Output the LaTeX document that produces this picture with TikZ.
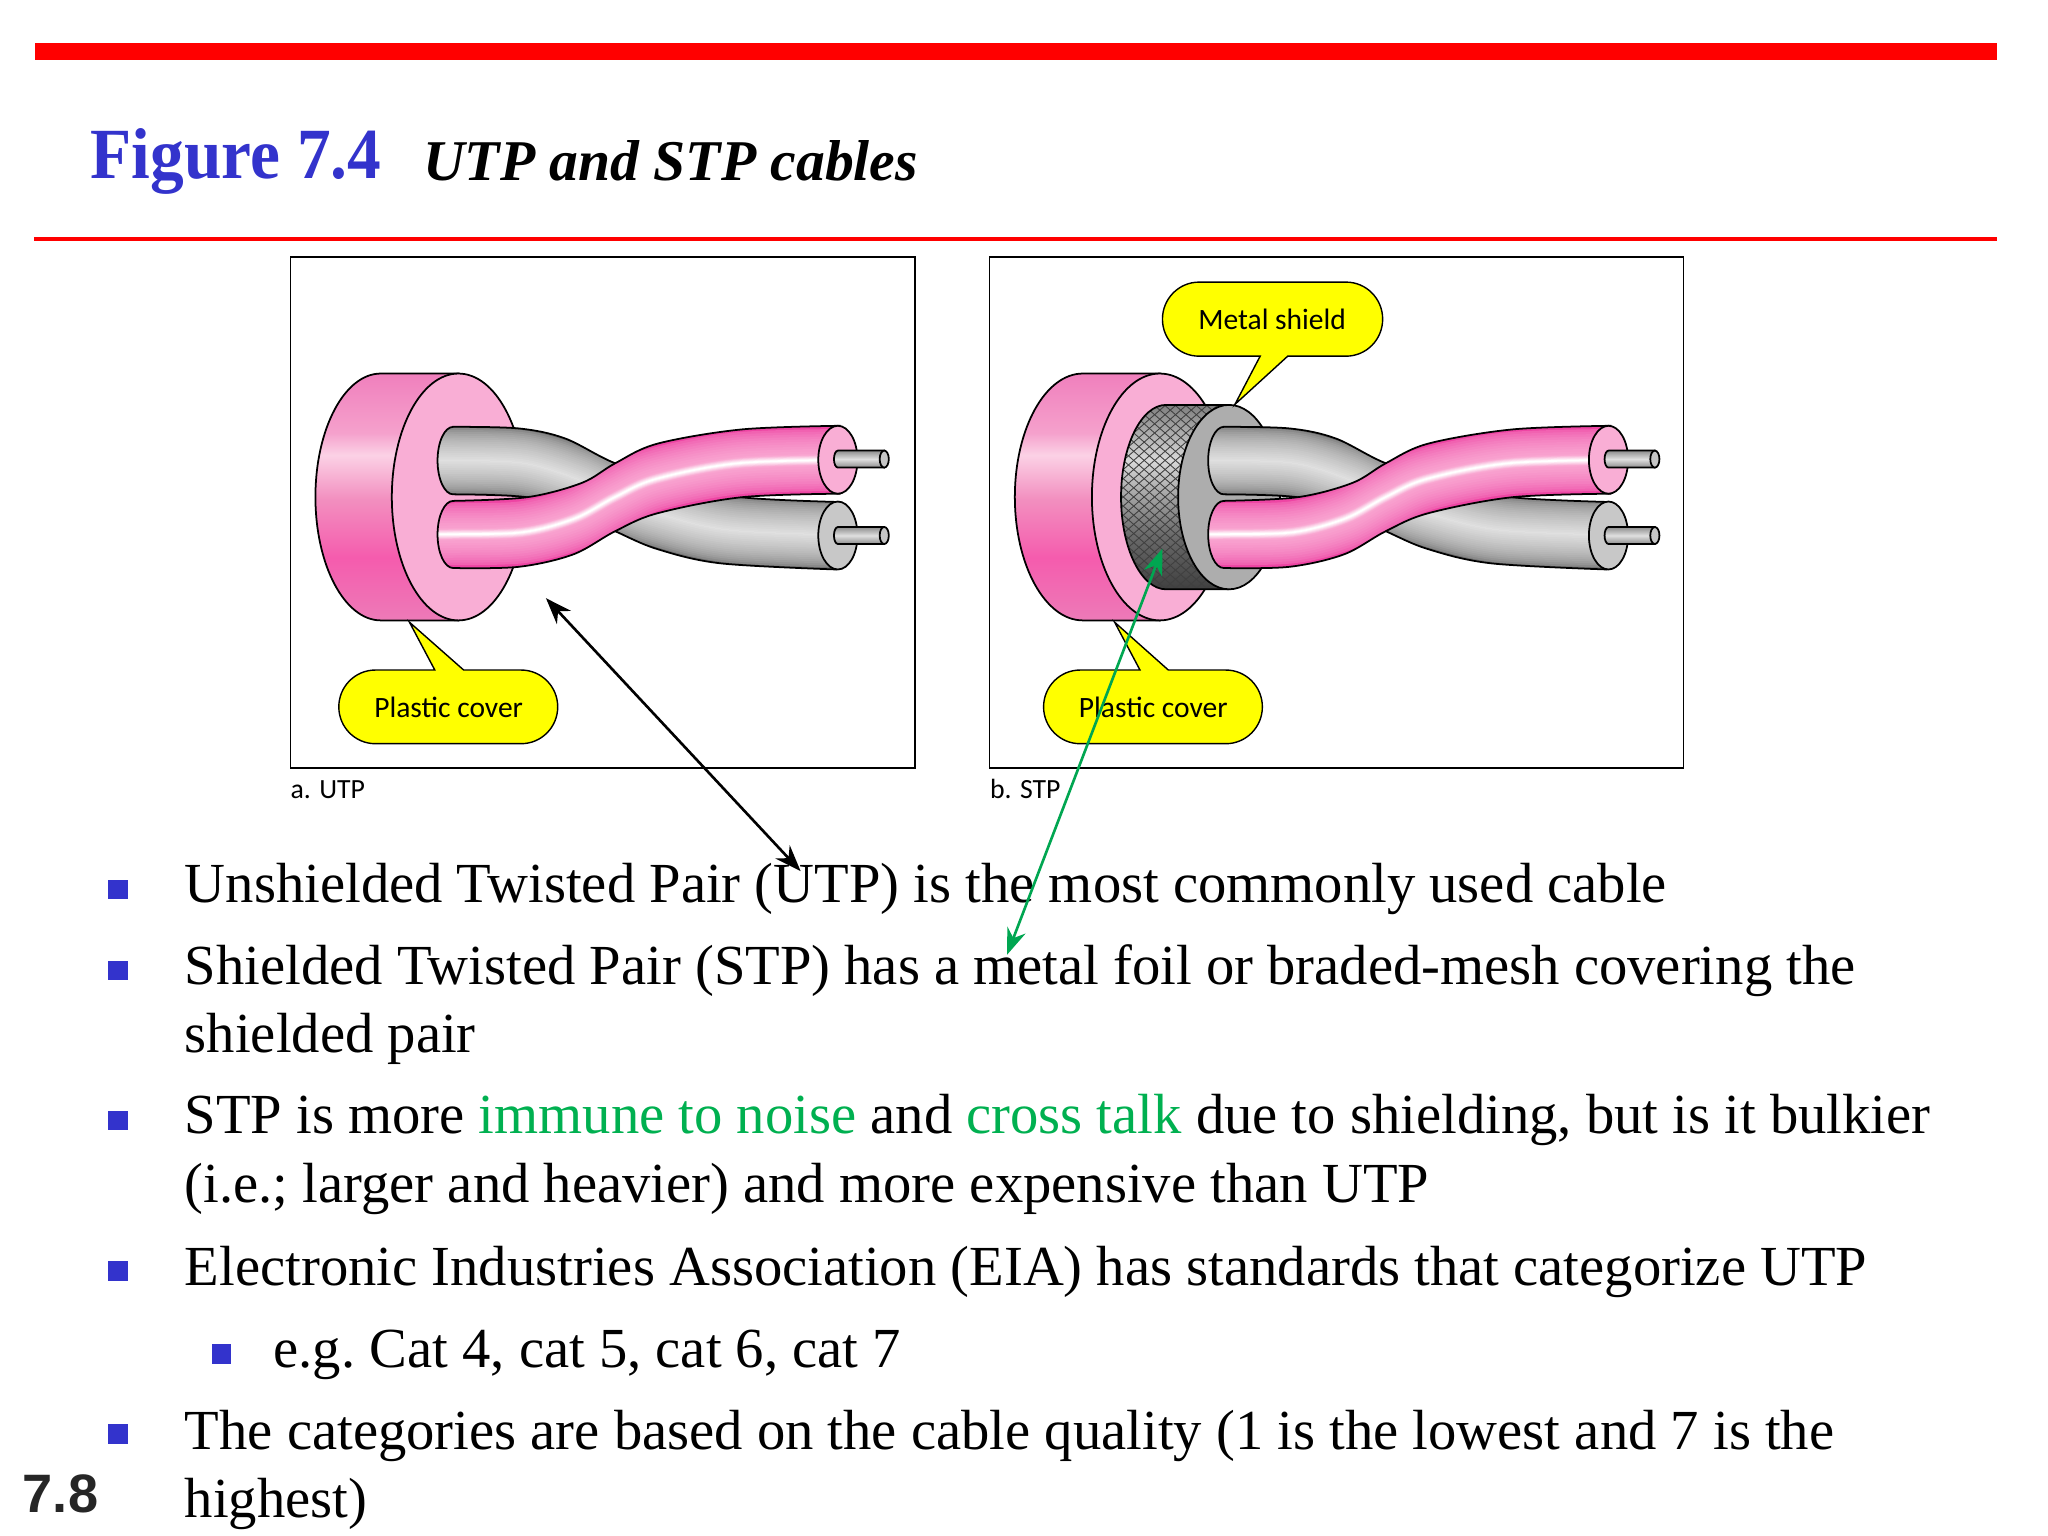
\documentclass[tikz,border=0pt]{standalone}
\usepackage{graphicx}
\usepackage{fontspec}
\setmainfont{Liberation Serif}
\newfontfamily\lblfont{Carlito}
\newfontfamily\pagefont{Liberation Sans}
\usetikzlibrary{arrows.meta}
\definecolor{slideblue}{HTML}{3333CC}
\definecolor{slidegreen}{HTML}{00B050}
\definecolor{arrowgreen}{HTML}{00A651}
\definecolor{facepink}{HTML}{F9AED5}
\definecolor{pinkdeep}{HTML}{EE45A4}
\definecolor{pinkmid}{HTML}{F9A8D2}
\definecolor{greydeep}{HTML}{707070}
\definecolor{greylight}{HTML}{E0E0E0}
\definecolor{facegrey}{HTML}{C8C8C8}
\definecolor{shieldgrey}{HTML}{ADADAD}
\definecolor{calloutyellow}{HTML}{FFFF00}
\pgfdeclareverticalshading{discpink}{100bp}{
 rgb(0bp)=(.93,.48,.72);
 rgb(25bp)=(.93,.48,.72);
 rgb(37.7bp)=(.96,.36,.68);
 rgb(49.5bp)=(.95,.56,.75);
 rgb(58.5bp)=(.985,.82,.90);
 rgb(63bp)=(.96,.63,.80);
 rgb(75bp)=(.94,.50,.74);
 rgb(100bp)=(.94,.50,.74)}
\pgfdeclareverticalshading{meshgrey}{100bp}{
 rgb(0bp)=(.25,.25,.25);
 rgb(25bp)=(.25,.25,.25);
 rgb(40bp)=(.42,.42,.42);
 rgb(60bp)=(.85,.85,.85);
 rgb(75bp)=(.5,.5,.5);
 rgb(100bp)=(.5,.5,.5)}
\tikzset{
 frame/.style={draw=black,line width=.5pt},
 outline/.style={draw=black,line width=.5pt},
 bodytext/.style={anchor=base west,inner sep=0pt,font=\fontsize{16.11}{19}\selectfont\frenchspacing},
 smalllabel/.style={anchor=base west,inner sep=0pt,font=\lblfont\fontsize{7.9}{9}\selectfont},
 calloutlabel/.style={inner sep=0pt,font=\lblfont\fontsize{8.4}{10}\selectfont},
 calloutbox/.style={draw=black,line width=.4pt,fill=calloutyellow},
 bulletmark/.style={fill=slideblue,draw=none},
 wirebody/.style={draw=black,line width=.5pt,top color=gray!90,bottom color=gray!90,middle color=greylight},
 wireend/.style={draw=black,line width=.5pt,fill=gray!45},
 dbl/.style={line width=.75pt,{Stealth[length=7.5pt,width=5.5pt]}-{Stealth[length=7.5pt,width=5.5pt]}}
}
% centre lines and outlines of the two conductors (UTP coordinates)
\newcommand{\pinkcentre}{plot[smooth,tension=.55] coordinates {(330,409)(347,409)(400,407.5)(440,397)(471,380.5)(503,366.5)(567,354.5)(660,352)}}
\newcommand{\greycentre}{plot[smooth,tension=.55] coordinates {(330,352.6)(347,352.6)(400,354.5)(440,366)(471,380.5)(503,393)(560,406)(660,410)}}
\newcommand{\pinkoutline}{(347,383.5) -- plot[smooth,tension=.55] coordinates {(347,383.5)(403.4,380.7)(445.3,369.8)(471,354.7)(503.3,339.7)(567.7,328.8)(643,326)} -- plot[smooth,tension=.55] coordinates {(643,378)(567.7,380.7)(503.3,393)(471,406.7)(438.8,424.5)(397,434)(347,434.9)} arc (90:270:12 and 25.7) -- cycle}
\newcommand{\greyoutline}{(347,326.8) -- plot[smooth,tension=.55] coordinates {(347,326.8)(397,328)(432.4,335.6)(471,354.7)(520,370)(567.7,380.7)(640,384.3)} -- plot[smooth,tension=.55] coordinates {(640,436)(551.6,431.3)(503.3,420.4)(471,406.7)(440,392)(403.4,380.7)(347,378.5)} arc (90:270:12 and 25.85) -- cycle}
\newcommand{\twistedpair}{%
 % grey conductor
 \begin{scope}
  \clip \greyoutline;
  \fill[greydeep] (320,320) rectangle (660,440);
  \foreach \i in {0,...,18}{
   \pgfmathsetmacro\wd{19.6*(1-\i/18)}
   \pgfmathsetmacro\mx{100*sqrt(\i/18)}
   \draw[line width=\wd pt,color=greylight!\mx!greydeep] \greycentre;
  }
 \end{scope}
 \path[outline] \greyoutline;
 \draw[outline,fill=facegrey] (641.5,410) ellipse [x radius=15,y radius=26];
 % pink conductor
 \begin{scope}
  \clip \pinkoutline;
  \fill[pinkdeep] (320,320) rectangle (660,440);
  \foreach \i in {0,...,12}{
   \pgfmathsetmacro\wd{19*(1-\i/12)+2.2*(\i/12)}
   \pgfmathsetmacro\mx{100*sqrt(\i/12)}
   \draw[line width=\wd pt,color=pinkmid!\mx!pinkdeep] \pinkcentre;
  }
  \foreach \i in {0,...,5}{
   \pgfmathsetmacro\wd{2.6*(1-\i/5)+.5}
   \pgfmathsetmacro\mx{\i/5*100}
   \draw[line width=\wd pt,color=white!\mx!pinkmid] \pinkcentre;
  }
 \end{scope}
 \path[outline] \pinkoutline;
 \draw[outline,fill=facepink] (641.5,352) ellipse [x radius=15,y radius=26];
 % wires
 \foreach \wy in {351.5,410}{
  \path[wirebody] (677,\wy-6.5) -- (641.5,\wy-6.5) arc (270:90:3 and 6.5) -- (677,\wy+6.5) -- cycle;
  \draw[wireend] (677,\wy) ellipse [x radius=3.5,y radius=6.5];
 }
}
\begin{document}
\begin{tikzpicture}[x=0.01306122cm,y=-0.01306122cm]
\path[use as bounding box,fill=white] (0,0) rectangle (1568,1176);
% rules
\fill[red] (27,33) rectangle (1529,46);
\fill[red] (26,181.5) rectangle (1529,184.5);
% title
\node[anchor=base west,inner sep=0pt,text=slideblue,font=\bfseries\fontsize{20.5}{26}\selectfont] (figno) at (69,137) {\scalebox{.935}[1]{Figure 7.4}};
\node[anchor=base west,inner sep=0pt,font=\bfseries\itshape\fontsize{16.4}{20}\selectfont] (figtitle) at (323.5,138) {UTP and STP cables};
% frames
\path[frame] (222.5,197) rectangle (700.5,588);
\path[frame] (757.5,197) rectangle (1289,588);
\node[smalllabel] (lblA) at (222,611) {a. UTP};
\node[smalllabel] (lblB) at (757.5,611) {b. STP};
% ---------- UTP cable
\path[outline,shading=discpink,shading angle=0] (291.5,286) -- (351,286) -- (351,475) -- (291.5,475) arc (90:270:50 and 94.5) -- cycle;
\draw[outline,fill=facepink] (351,380.5) ellipse [x radius=51,y radius=94.5];
\twistedpair
% ---------- STP cable
\path[outline,shading=discpink,shading angle=0] (829,286) -- (888,286) -- (888,475) -- (829,475) arc (90:270:52 and 94.5) -- cycle;
\draw[outline,fill=facepink] (888,380.5) ellipse [x radius=52,y radius=94.5];
\path[shading=meshgrey,shading angle=0] (892.8,310) -- (941,310) -- (941,451.2) -- (892.8,451.2) arc (90:270:34.5 and 70.6) -- cycle;
\begin{scope}
 \clip (892.8,310) -- (941,310) -- (941,451.2) -- (892.8,451.2) arc (90:270:34.5 and 70.6) -- cycle;
 \foreach \d in {680,688,...,1000}{
  \draw[line width=.25pt,color=black!75] (\d,300) -- (\d+184,461);
  \draw[line width=.25pt,color=black!75] (\d+184,300) -- (\d,461);
 }
\end{scope}
\path[outline] (941,310) -- (892.8,310) arc (270:90:34.5 and 70.6) -- (941,451.2);
\draw[outline,fill=shieldgrey] (941,380.6) ellipse [x radius=39,y radius=70.6];
\begin{scope}[shift={(590,0)}]
 \twistedpair
\end{scope}
% ---------- callouts
\path[calloutbox] (332.9,513) -- (313.5,476.4) -- (355,513) -- (399,513) arc (-90:90:28 and 28.2) -- (287.4,569.4) arc (90:270:28 and 28.2) -- cycle;
\node[calloutlabel] (plasticA) at (343.5,541.5) {Plastic cover};
\path[calloutbox] (872.8,513) -- (853.4,476.4) -- (894.5,513) -- (938.5,513) arc (-90:90:28 and 28.2) -- (827,569.4) arc (90:270:28 and 28.2) -- cycle;
\node[calloutlabel] (plasticB) at (883,541.5) {Plastic cover};
\path[calloutbox] (918,216) -- (1030.6,216) arc (-90:90:28 and 28.35) -- (985.9,272.7) -- (945.5,309.6) -- (964.8,272.7) -- (918,272.7) arc (90:270:28 and 28.35) -- cycle;
\node[calloutlabel] (metal) at (974,244.5) {Metal shield};
% ---------- body text
\foreach \by in {681,743,858,973,1098}{\fill[bulletmark] (83,\by-7.5) rectangle (98,\by+7.5);}
\fill[bulletmark] (162,1029) rectangle (177,1044);
\node[bodytext] (l1) at (141,691) {Unshielded Twisted Pair (UTP) is the most commonly used cable};
\node[bodytext] (l2) at (141,754) {Shielded Twisted Pair (STP) has a metal foil or braded-mesh covering the};
\node[bodytext] (l3) at (141,806) {shielded pair};
\node[bodytext] (l4) at (141,868) {STP is more \textcolor{slidegreen}{immune to noise} and \textcolor{slidegreen}{cross talk} due to shielding, but is it bulkier};
\node[bodytext] (l5) at (141,921) {(i.e.; larger and heavier) and more expensive than UTP};
\node[bodytext] (l6) at (141,984) {Electronic Industries Association (EIA) has standards that categorize UTP};
\node[bodytext] (l7) at (209,1047) {e.g. Cat 4, cat 5, cat 6, cat 7};
\node[bodytext] (l8) at (141,1109.5) {The categories are based on the cable quality (1 is the lowest and 7 is the};
\node[bodytext] (l9) at (141,1161.5) {highest)};
\node[anchor=base west,inner sep=0pt,text=black!85,font=\pagefont\bfseries\fontsize{15.4}{18}\selectfont] (pageno) at (17,1158) {7.8};
% ---------- annotation arrows
\coordinate (blackA) at (418,458);
\coordinate (blackB) at (613,667);
\coordinate (greenA) at (890,420);
\coordinate (greenB) at (771,731);
\draw[dbl,black] (blackA) -- (blackB);
\draw[dbl,arrowgreen] (greenA) -- (greenB);
\end{tikzpicture}
\end{document}
